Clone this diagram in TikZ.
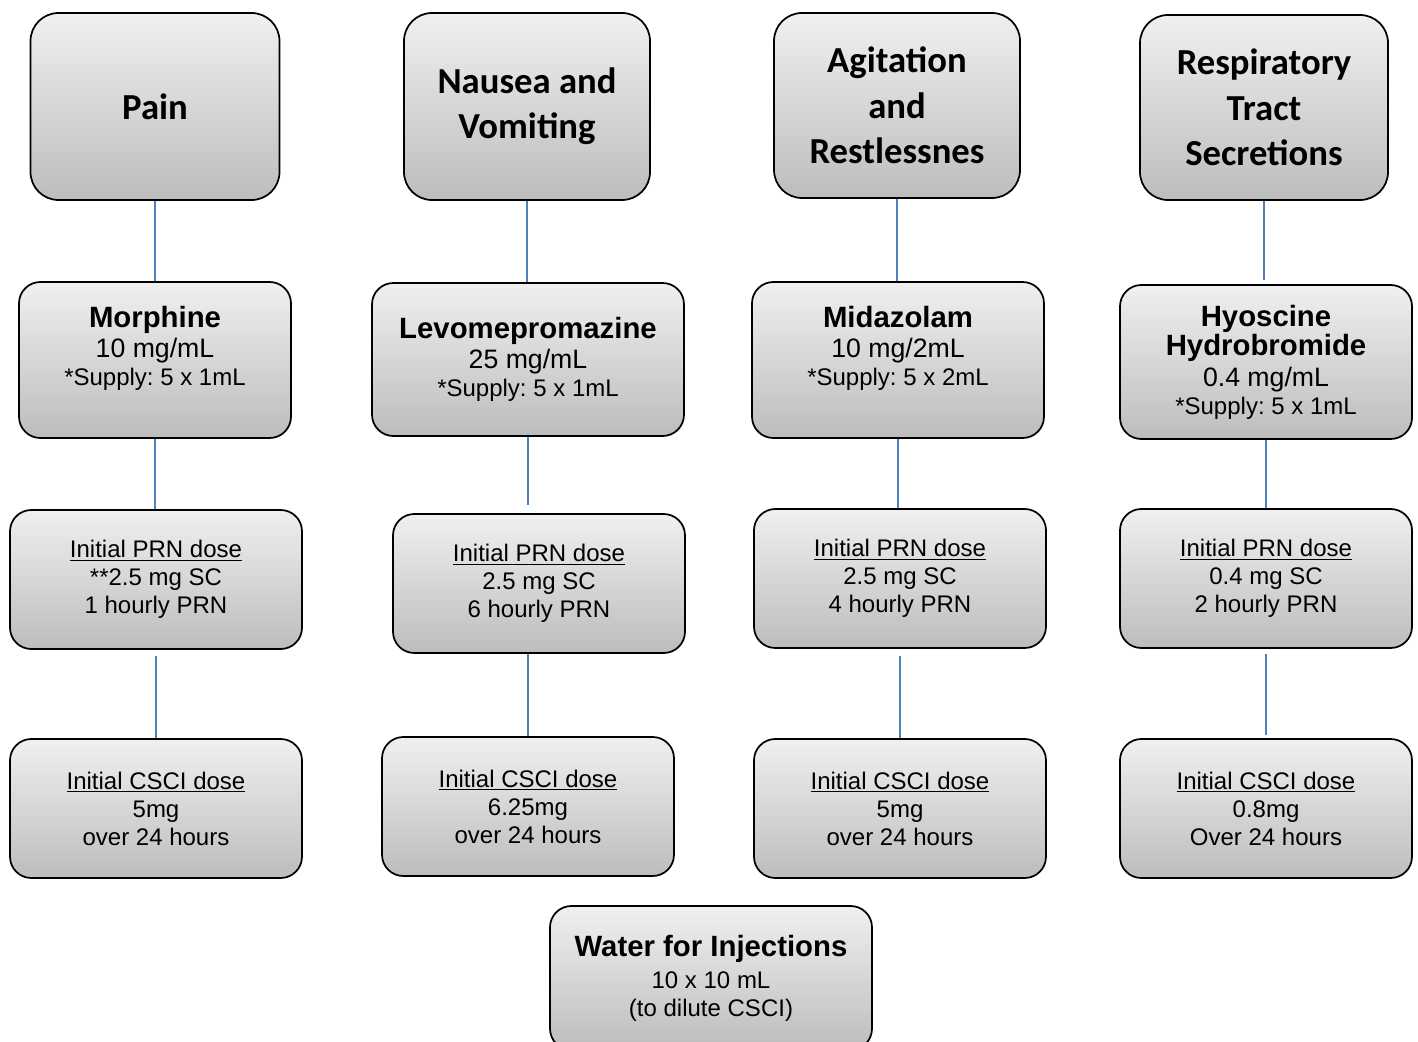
\documentclass[tikz,border=0pt]{standalone}
\usepackage{fontspec}
\setmainfont{Liberation Sans}
\newfontfamily\headfont{Carlito}
\usetikzlibrary{positioning}
\definecolor{linkblue}{RGB}{79,129,189}
\frenchspacing

\tikzset{
    box/.style={draw=black, line width=1.3pt, rounded corners=16pt,
        top color=gray!12, bottom color=gray!52, align=center, inner sep=2pt,
        font=\fontsize{18}{21}\selectfont},
    headbox/.style={box, rounded corners=21pt,
        font=\headfont\bfseries\fontsize{27.5}{34}\selectfont},
    dosebox/.style={box, minimum width=219pt, minimum height=104.25pt},
    link/.style={draw=linkblue, line width=1.1pt},
}
\newcommand{\drug}[1]{{\fontsize{22}{26}\selectfont\bfseries #1}}
\newcommand{\conc}[1]{{\fontsize{20}{24}\selectfont #1}}

\begin{document}
\begin{tikzpicture}[x=0.75pt, y=-0.75pt]
    \useasboundingbox (0,0) rectangle (1418,1042);

    % symptoms
    \node[headbox, minimum width=186.75pt, minimum height=140.25pt] (pain) at (155,106.5) {Pain};
    \node[headbox, minimum width=184.5pt, minimum height=140.25pt] (nausea) at (527,106.5) {Nausea and\\Vomiting};
    \node[headbox, minimum width=184.5pt, minimum height=138.75pt] (agit) at (897,105.5) {Agitation\\and\\Restlessnes};
    \node[headbox, minimum width=186pt, minimum height=138.75pt] (resp) at (1264,107.5) {Respiratory\\Tract\\Secretions};

    % drugs
    \node[box, minimum width=204pt, minimum height=117pt] (morph) at (155,360)
        {\drug{Morphine}\\[2pt]\conc{10 mg/mL}\\*Supply: 5 x 1mL\\~};
    \node[box, minimum width=234pt, minimum height=114.75pt] (levo) at (528,359.5)
        {\drug{Levomepromazine}\\[2pt]\conc{25 mg/mL}\\*Supply: 5 x 1mL};
    \node[box, minimum width=219pt, minimum height=117pt] (mida) at (898,360)
        {\drug{Midazolam}\\[2pt]\conc{10 mg/2mL}\\*Supply: 5 x 2mL\\~};
    \node[box, minimum width=219pt, minimum height=115.5pt] (hyos) at (1266,362)
        {\drug{Hyoscine}\\[1pt]\drug{Hydrobromide}\\[2pt]\conc{0.4 mg/mL}\\*Supply: 5 x 1mL};

    % PRN doses
    \node[dosebox] (prna) at (156,579.5) {\underline{Initial PRN dose}\\**2.5 mg SC\\1 hourly PRN};
    \node[dosebox] (prnb) at (539,583.5) {\underline{Initial PRN dose}\\2.5 mg SC\\6 hourly PRN};
    \node[dosebox] (prnc) at (900,578.5) {\underline{Initial PRN dose}\\2.5 mg SC\\4 hourly PRN};
    \node[dosebox] (prnd) at (1266,578.5) {\underline{Initial PRN dose}\\0.4 mg SC\\2 hourly PRN};

    % CSCI doses
    \node[dosebox] (cscia) at (156,808.5) {\underline{Initial CSCI dose}\\5mg\\over 24 hours};
    \node[dosebox] (cscib) at (528,806.5) {\underline{Initial CSCI dose}\\6.25mg\\over 24 hours};
    \node[dosebox] (cscic) at (900,808.5) {\underline{Initial CSCI dose}\\5mg\\over 24 hours};
    \node[dosebox] (cscid) at (1266,808.5) {\underline{Initial CSCI dose}\\0.8mg\\Over 24 hours};

    \node[box, minimum width=241.5pt, minimum height=108pt] (water) at (711,978)
        {\drug{Water for Injections}\\[3pt]10 x 10 mL\\(to dilute CSCI)};

    % connectors
    \draw[link] (pain.south) -- (pain.south |- morph.north);
    \draw[link] (morph.south) -- (morph.south |- prna.north);
    \draw[link, shorten <=4.5pt] (prna.south) -- (prna.south |- cscia.north);

    \draw[link] (nausea.south) -- (nausea.south |- levo.north);
    \draw[link, shorten >=6pt] (levo.south) -- (levo.south |- prnb.north);
    \draw[link] (levo.south |- prnb.south) -- (levo.south |- cscib.north);

    \draw[link] (agit.south) -- (agit.south |- mida.north);
    \draw[link] (mida.south) -- (mida.south |- prnc.north);
    \draw[link, shorten <=5pt] (prnc.south) -- (prnc.south |- cscic.north);

    \draw[link, shorten >=3pt] (resp.south) -- (resp.south |- hyos.north);
    \draw[link] (hyos.south) -- (hyos.south |- prnd.north);
    \draw[link, shorten <=4pt, shorten >=2pt] (prnd.south) -- (prnd.south |- cscid.north);
\end{tikzpicture}
\end{document}
